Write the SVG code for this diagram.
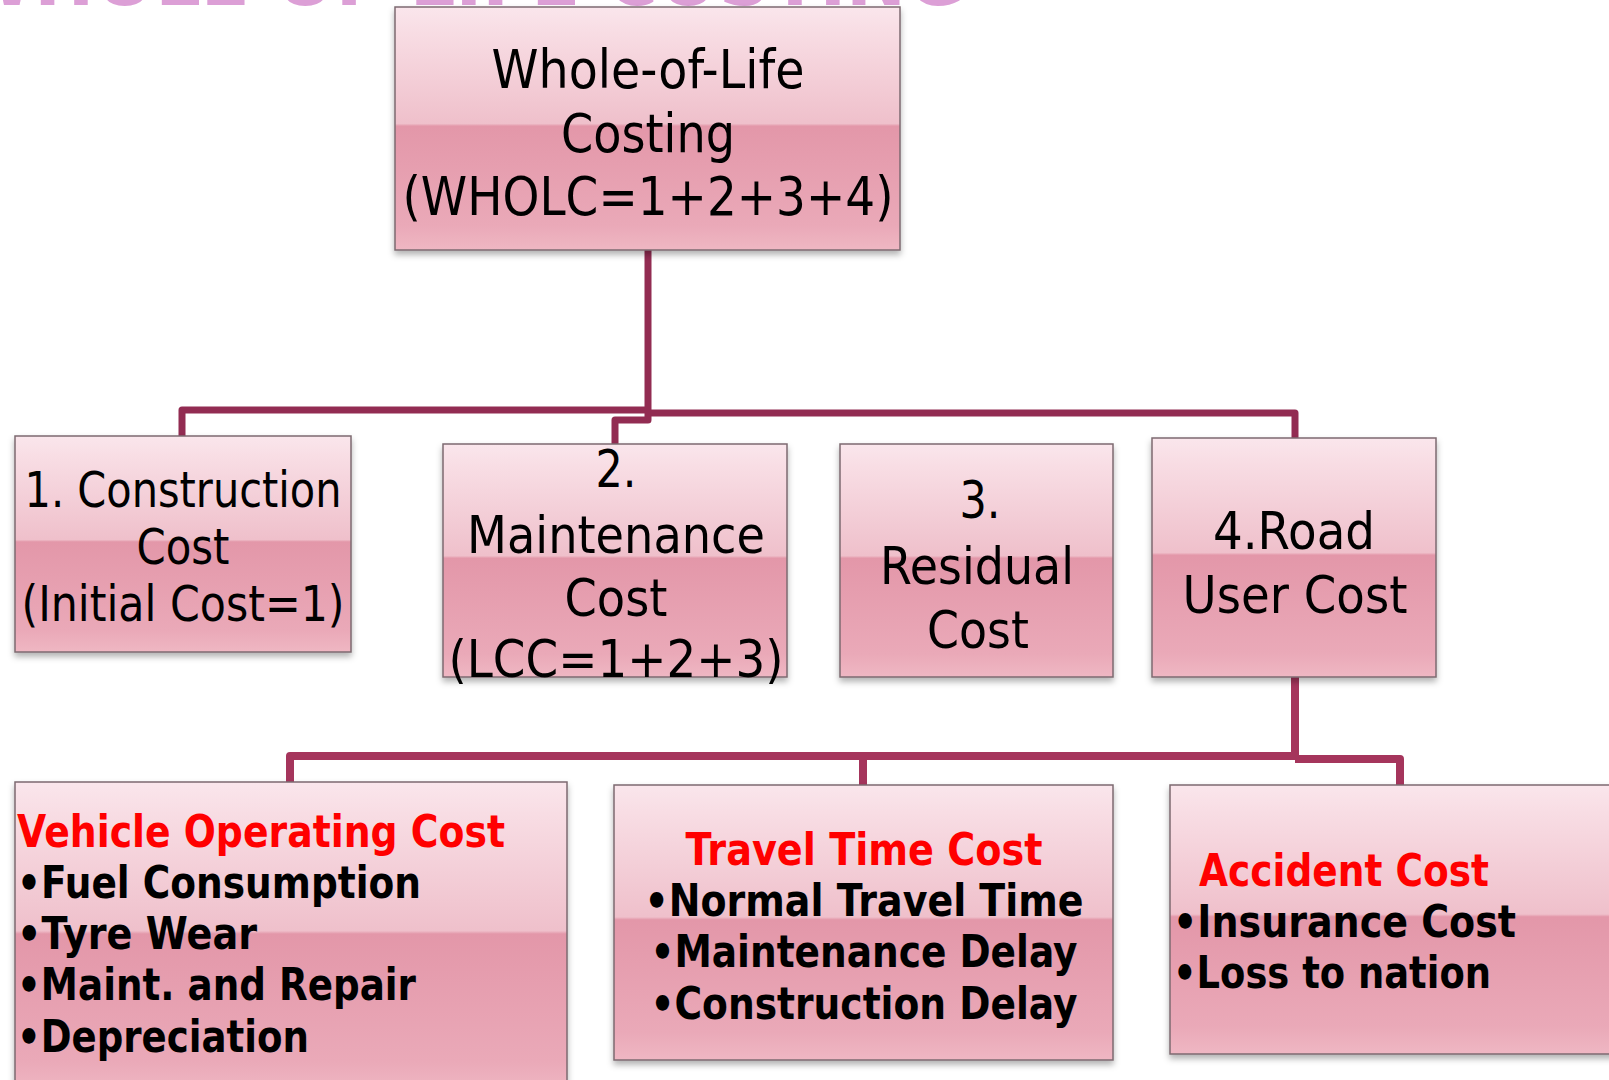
<svg xmlns="http://www.w3.org/2000/svg" width="1609" height="1080" viewBox="0 0 1609 1080">
<defs>
<linearGradient id="gloss" x1="0" y1="0" x2="0" y2="1">
<stop offset="0" stop-color="#fae6ec"/>
<stop offset="0.1" stop-color="#f8dde4"/>
<stop offset="0.48" stop-color="#efc0cb"/>
<stop offset="0.49" stop-color="#e397a9"/>
<stop offset="0.9" stop-color="#eaa9b8"/>
<stop offset="1" stop-color="#efb7c3"/>
</linearGradient>
<filter id="shadow" x="-5%" y="-5%" width="110%" height="115%">
<feDropShadow dx="0" dy="4" stdDeviation="3" flood-color="#000" flood-opacity="0.3"/>
</filter>
</defs>
<style>
.box{fill:url(#gloss);stroke:#7d6a70;stroke-width:1.5;filter:url(#shadow)}
.reg{font-family:"DejaVu Sans",sans-serif;fill:#000;text-anchor:middle}
.bold{font-family:"DejaVu Sans",sans-serif;font-weight:bold;fill:#000}
.red{fill:#ff0000}
.c1{fill:none;stroke:#922c52;stroke-width:7;stroke-linejoin:round}
.c2{fill:none;stroke:#a5355c;stroke-width:8;stroke-linejoin:round}
.title{font-family:"DejaVu Sans",sans-serif;font-weight:bold;fill:#dc9fd6;font-size:80px}
</style>
<text class="title" x="-45" y="5" textLength="1010" lengthAdjust="spacingAndGlyphs">WHOLE OF LIFE COSTING</text>
<g id="connectors">
<path class="c1" d="M648,250 V413"/>
<path class="c1" d="M648,410 H182 V436"/>
<path class="c1" d="M648,413 H1295 V438"/>
<path class="c1" d="M648,413 V420 H615 V444"/>
<path class="c2" d="M1295,677 V758"/>
<path class="c2" d="M1295,756 H290 V782"/>
<path class="c2" d="M863,756 V785"/>
<path class="c2" d="M1295,759 H1400 V785"/>
</g>
<g id="wholc">
<rect class="box" x="395" y="7" width="505" height="243"/>
<text class="reg" font-size="54" x="648" y="88" textLength="313" lengthAdjust="spacingAndGlyphs">Whole-of-Life</text>
<text class="reg" font-size="54" x="648" y="152" textLength="174" lengthAdjust="spacingAndGlyphs">Costing</text>
<text class="reg" font-size="54" x="648" y="215" textLength="491" lengthAdjust="spacingAndGlyphs">(WHOLC=1+2+3+4)</text>
</g>
<g id="construction">
<rect class="box" x="15" y="436" width="336" height="216"/>
<text class="reg" font-size="50" x="183" y="507" textLength="317" lengthAdjust="spacingAndGlyphs">1. Construction</text>
<text class="reg" font-size="50" x="183" y="564" textLength="93" lengthAdjust="spacingAndGlyphs">Cost</text>
<text class="reg" font-size="50" x="183" y="621" textLength="323" lengthAdjust="spacingAndGlyphs">(Initial Cost=1)</text>
</g>
<g id="maintenance">
<rect class="box" x="443" y="444" width="344" height="233"/>
<text class="reg" font-size="52" x="616" y="487" textLength="41" lengthAdjust="spacingAndGlyphs">2.</text>
<text class="reg" font-size="52" x="616" y="553" textLength="298" lengthAdjust="spacingAndGlyphs">Maintenance</text>
<text class="reg" font-size="52" x="616" y="616" textLength="103" lengthAdjust="spacingAndGlyphs">Cost</text>
<text class="reg" font-size="52" x="616" y="677" textLength="335" lengthAdjust="spacingAndGlyphs">(LCC=1+2+3)</text>
</g>
<g id="residual">
<rect class="box" x="840" y="444" width="273" height="233"/>
<text class="reg" font-size="52" x="980" y="518" textLength="41" lengthAdjust="spacingAndGlyphs">3.</text>
<text class="reg" font-size="52" x="977" y="584" textLength="194" lengthAdjust="spacingAndGlyphs">Residual</text>
<text class="reg" font-size="52" x="978" y="648" textLength="102" lengthAdjust="spacingAndGlyphs">Cost</text>
</g>
<g id="roaduser">
<rect class="box" x="1152" y="438" width="284" height="239"/>
<text class="reg" font-size="52" x="1294" y="549" textLength="162" lengthAdjust="spacingAndGlyphs">4.Road</text>
<text class="reg" font-size="52" x="1295" y="613" textLength="225" lengthAdjust="spacingAndGlyphs">User Cost</text>
</g>
<g id="voc">
<rect class="box" x="15" y="782" width="552" height="310"/>
<text class="bold red" font-size="44" x="17" y="847" textLength="488" lengthAdjust="spacingAndGlyphs">Vehicle Operating Cost</text>
<text class="bold" font-size="44" x="17" y="898" textLength="404" lengthAdjust="spacingAndGlyphs">•Fuel Consumption</text>
<text class="bold" font-size="44" x="17" y="949" textLength="240" lengthAdjust="spacingAndGlyphs">•Tyre Wear</text>
<text class="bold" font-size="44" x="17" y="1000" textLength="399" lengthAdjust="spacingAndGlyphs">•Maint. and Repair</text>
<text class="bold" font-size="44" x="17" y="1052" textLength="292" lengthAdjust="spacingAndGlyphs">•Depreciation</text>
</g>
<g id="traveltime">
<rect class="box" x="614" y="785" width="499" height="275"/>
<text class="bold red" font-size="44" x="864" y="865" text-anchor="middle" textLength="357" lengthAdjust="spacingAndGlyphs">Travel Time Cost</text>
<text class="bold" font-size="44" x="864" y="916" text-anchor="middle" textLength="439" lengthAdjust="spacingAndGlyphs">•Normal Travel Time</text>
<text class="bold" font-size="44" x="864" y="967" text-anchor="middle" textLength="427" lengthAdjust="spacingAndGlyphs">•Maintenance Delay</text>
<text class="bold" font-size="44" x="864" y="1019" text-anchor="middle" textLength="427" lengthAdjust="spacingAndGlyphs">•Construction Delay</text>
</g>
<g id="accident">
<rect class="box" x="1170" y="785" width="460" height="269"/>
<text class="bold red" font-size="44" x="1199" y="886" textLength="290" lengthAdjust="spacingAndGlyphs">Accident Cost</text>
<text class="bold" font-size="44" x="1173" y="937" textLength="343" lengthAdjust="spacingAndGlyphs">•Insurance Cost</text>
<text class="bold" font-size="44" x="1173" y="988" textLength="318" lengthAdjust="spacingAndGlyphs">•Loss to nation</text>
</g>
</svg>
